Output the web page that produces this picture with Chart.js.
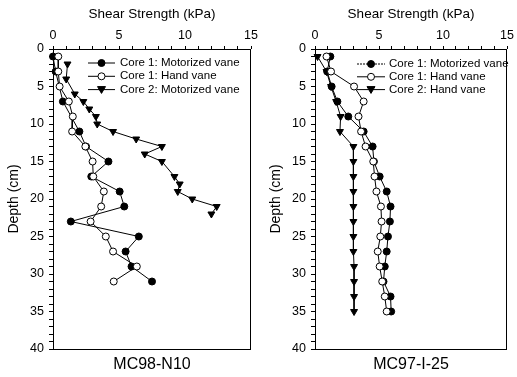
<!DOCTYPE html>
<html>
<head>
<meta charset="utf-8">
<script src="https://cdn.jsdelivr.net/npm/chart.js@4.4.1/dist/chart.umd.min.js"></script>
<style>
  html, body { margin: 0; padding: 0; background: #fff; }
  #wrap { position: relative; width: 517px; height: 377px; }
  .panel { position: absolute; top: 0; }
</style>
</head>
<body>
<div id="wrap">
  <div class="panel" style="left:0"><canvas id="left" width="262" height="377"></canvas></div>
  <div class="panel" style="left:262px"><canvas id="right" width="255" height="377"></canvas></div>
</div>
<script>
// MC98-N10 (left panel)
const n10MotorDepth = [1, 3, 7, 11, 13, 15, 17, 19, 21, 23, 25, 27, 29, 31];
const n10MotorKpa = [0, 0.2, 0.75, 2.0, 2.5, 4.2, 2.9, 5.05, 5.4, 1.35, 6.5, 5.5, 5.95, 7.5];
const n10HandDepth = [1, 3, 5, 7, 9, 11, 13, 15, 17, 19, 21, 23, 25, 27, 29, 31];
const n10HandKpa = [0.4, 0.4, 0.5, 1.2, 1.5, 1.45, 2.45, 3.0, 3.05, 3.85, 3.65, 2.85, 4.0, 4.55, 6.35, 4.6];
const n10Core2Depth = [2, 4, 6, 7, 8, 9, 10, 11, 12, 13, 14, 15, 17, 18, 19, 20, 21, 22];
const n10Core2Kpa = [1.1, 1.0, 1.65, 2.3, 2.75, 3.25, 3.35, 4.55, 6.3, 8.25, 6.95, 8.25, 9.2, 9.6, 9.45, 10.55, 12.4, 12.0];

// MC97-I-25 (right panel)
const i25Depth = [1, 3, 5, 7, 9, 11, 13, 15, 17, 19, 21, 23, 25, 27, 29, 31, 33, 35];
const i25MotorKpa = [1.2, 0.95, 1.3, 1.75, 2.6, 3.8, 4.5, 4.6, 5.05, 5.6, 5.9, 5.85, 5.7, 5.6, 5.45, 5.35, 5.9, 5.95];
const i25HandKpa = [0.9, 1.25, 3.05, 3.8, 3.4, 3.6, 3.95, 4.55, 4.65, 4.8, 5.15, 5.2, 5.1, 4.9, 5.05, 5.25, 5.45, 5.6];
const i25Core2Kpa = [0.2, 0.9, 1.25, 1.65, 2.0, 1.95, 3.0, 3.0, 3.0, 3.0, 3.0, 3.0, 3.0, 3.0, 3.05, 3.05, 3.05, 3.05];

const FONT = '"Liberation Sans", Arial, sans-serif';

function pts(kpa, depth) {
  return kpa.map((v, i) => ({ x: v, y: depth[i] }));
}

// box around the plot area
const frame = {
  id: 'frame',
  afterDraw(chart) {
    const a = chart.chartArea, ctx = chart.ctx;
    ctx.save();
    ctx.strokeStyle = '#000';
    ctx.lineWidth = 1;
    ctx.strokeRect(Math.round(a.left) + 0.5, Math.round(a.top) + 0.5,
      Math.round(a.right - a.left) - 1, Math.round(a.bottom - a.top));
    ctx.restore();
  }
};

function marker(ctx, ds, x, y) {
  const r = ds.pointRadius;
  ctx.beginPath();
  if (ds.pointStyle === 'triangle') {
    ctx.moveTo(x - r, y - r * 0.75);
    ctx.lineTo(x + r, y - r * 0.75);
    ctx.lineTo(x, y + r * 0.95);
    ctx.closePath();
  } else {
    ctx.arc(x, y, r, 0, Math.PI * 2);
  }
  ctx.fillStyle = ds.pointBackgroundColor;
  ctx.fill();
  ctx.stroke();
}

// legend drawn inside the plot, as in the figure
const insideLegend = {
  id: 'insideLegend',
  afterDatasetsDraw(chart, args, o) {
    const a = chart.chartArea, ctx = chart.ctx;
    ctx.save();
    chart.data.datasets.forEach((ds, i) => {
      const y = a.top + o.top + i * o.rowGap;
      const x0 = a.left + o.left;
      ctx.strokeStyle = '#000';
      ctx.lineWidth = 1;
      ctx.setLineDash(ds.legendDash || []);
      ctx.beginPath();
      ctx.moveTo(x0, y);
      ctx.lineTo(x0 + o.lineLen, y);
      ctx.stroke();
      ctx.setLineDash([]);
      marker(ctx, ds, x0 + o.lineLen / 2, y);
      ctx.fillStyle = '#000';
      ctx.font = '11.5px ' + FONT;
      ctx.textBaseline = 'middle';
      ctx.fillText(ds.label, x0 + o.lineLen + o.gap, y);
    });
    ctx.restore();
  }
};

function series(label, data, style, fill, order, extra) {
  return Object.assign({
    label: label,
    data: data,
    showLine: true,
    borderColor: '#000',
    borderWidth: 1,
    pointStyle: style,
    pointRotation: style === 'triangle' ? 180 : 0,
    pointRadius: style === 'triangle' ? 4 : 3.5,
    pointBackgroundColor: fill,
    pointBorderColor: '#000',
    pointBorderWidth: 1,
    clip: false,
    order: order
  }, extra || {});
}

function makeChart(id, name, datasets, legendPos, padRight) {
  new Chart(document.getElementById(id), {
    type: 'scatter',
    data: { datasets: datasets },
    options: {
      responsive: false,
      animation: false,
      events: [],
      layout: { padding: { left: 0, top: 0, right: padRight, bottom: 0 } },
      scales: {
        x: {
          type: 'linear',
          position: 'top',
          min: 0, max: 15,
          afterFit(s) { s.height = 49; },
          border: { display: false },
          grid: { drawOnChartArea: false, drawTicks: true, tickLength: 3, color: '#000' },
          ticks: {
            stepSize: 1, autoSkip: false, maxRotation: 0, padding: 3,
            color: '#000', font: { family: FONT, size: 12.5 },
            callback: v => (v % 5 === 0 ? v : '')
          },
          title: {
            display: true, text: 'Shear Strength (kPa)', color: '#000',
            font: { family: FONT, size: 13.5 }, padding: { top: 6, bottom: 0 }
          }
        },
        // bottom axis only carries the core name under the plot
        name: {
          type: 'linear',
          position: 'bottom',
          axis: 'x',
          min: 0, max: 15,
          afterFit(s) { s.height = 28; },
          border: { display: false },
          grid: { display: false },
          ticks: { display: false },
          title: {
            display: true, text: name, color: '#000',
            font: { family: FONT, size: 16 }, padding: { top: 0, bottom: 2.5 }
          }
        },
        y: {
          type: 'linear',
          reverse: true,
          min: 0, max: 40,
          afterFit(s) { s.width = 53; },
          border: { display: false },
          grid: { drawOnChartArea: false, drawTicks: true, tickLength: 4, color: '#000' },
          ticks: {
            stepSize: 1, autoSkip: false, padding: 5,
            color: '#000', font: { family: FONT, size: 12.5 },
            callback: v => (v % 5 === 0 ? v : '')
          },
          title: {
            display: true, text: 'Depth (cm)', color: '#000',
            font: { family: FONT, size: 14 }, padding: { top: 5.5, bottom: 0 }
          }
        }
      },
      plugins: {
        legend: { display: false },
        tooltip: { enabled: false },
        insideLegend: legendPos
      }
    },
    plugins: [frame, insideLegend]
  });
}

makeChart('left', 'MC98-N10', [
  series('Core 1: Motorized vane', pts(n10MotorKpa, n10MotorDepth), 'circle', '#000', 1),
  series('Core 1: Hand vane', pts(n10HandKpa, n10HandDepth), 'circle', '#fff', 0),
  series('Core 2: Motorized vane', pts(n10Core2Kpa, n10Core2Depth), 'triangle', '#000', 2)
], { left: 35, top: 14, rowGap: 13.3, lineLen: 27, gap: 5 }, 11);

makeChart('right', 'MC97-I-25', [
  series('Core 1: Motorized vane', pts(i25MotorKpa, i25Depth), 'circle', '#000', 1, { legendDash: [2, 1] }),
  series('Core 1: Hand vane', pts(i25HandKpa, i25Depth), 'circle', '#fff', 0),
  series('Core 2: Hand vane', pts(i25Core2Kpa, i25Depth), 'triangle', '#000', 2)
], { left: 42, top: 15, rowGap: 12.8, lineLen: 28, gap: 4 }, 5);
</script>
</body>
</html>
